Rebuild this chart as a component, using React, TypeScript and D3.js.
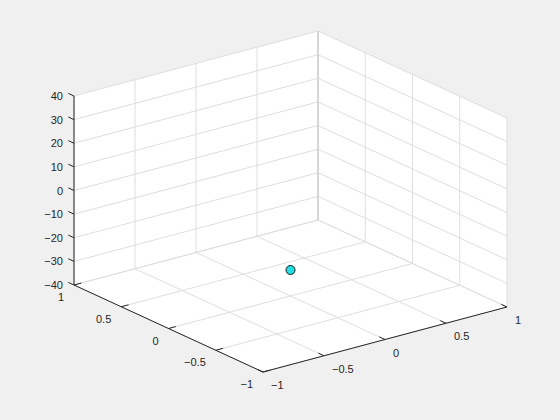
import React from 'react';
import * as d3 from 'd3';

// ticks for each axis
const xTicks = [-1, -0.5, 0, 0.5, 1];
const yTicks = [-1, -0.5, 0, 0.5, 1];
const zTicks = [-40, -30, -20, -10, 0, 10, 20, 30, 40];
const xTickLabels = ['-1', '-0.5', '0', '0.5', '1'];
const yTickLabels = ['-1', '-0.5', '0', '0.5', '1'];
const zTickLabels = ['-40', '-30', '-20', '-10', '0', '10', '20', '30', '40'];

// the single scattered point
const pointsX = [0];
const pointsY = [0];
const pointsZ = [-29];

const W = 560;
const H = 420;

// screen geometry of the box (orthographic, matlab default view)
const front = [263, 372];
const xEdge = [244, -65];   // x from -1 to 1
const yEdge = [-189, -87];  // y from -1 to 1
const zHeight = 189;

const sx = d3.scaleLinear().domain([-1, 1]).range([0, 1]);
const sy = d3.scaleLinear().domain([-1, 1]).range([0, 1]);
const sz = d3.scaleLinear().domain([-40, 40]).range([0, zHeight]);

const proj = (x: number, y: number, z: number): [number, number] => {
  const a = sx(x), b = sy(y);
  return [
    front[0] + a * xEdge[0] + b * yEdge[0],
    front[1] + a * xEdge[1] + b * yEdge[1] - sz(z),
  ];
};

const fmt = (s: string) => s.replace('-', '\u2212');

const App = () => {
  const line = d3.line();
  const gridColor = '#dedede';
  const font = '"Liberation Sans", Arial, sans-serif';

  // white faces: floor, back wall (y=1), side wall (x=1)
  const outline = [
    proj(-1, 1, 40), proj(1, 1, 40), proj(1, -1, 40),
    proj(1, -1, -40), proj(-1, -1, -40), proj(-1, 1, -40),
  ];

  const grid: [number, number][][] = [];
  // floor
  xTicks.forEach(x => grid.push([proj(x, -1, -40), proj(x, 1, -40)]));
  yTicks.forEach(y => grid.push([proj(-1, y, -40), proj(1, y, -40)]));
  // wall y = 1
  xTicks.forEach(x => grid.push([proj(x, 1, -40), proj(x, 1, 40)]));
  zTicks.forEach(z => grid.push([proj(-1, 1, z), proj(1, 1, z)]));
  // wall x = 1
  yTicks.forEach(y => grid.push([proj(1, y, -40), proj(1, y, 40)]));
  zTicks.forEach(z => grid.push([proj(1, -1, z), proj(1, 1, z)]));

  const tickLen = 0.06;

  return (
    <svg width={W} height={H} style={{ position: 'absolute', left: 0, top: 0, background: '#f0f0f0' }}>
      <rect x={0} y={0} width={W} height={H} fill="#f0f0f0" />
      <path d={line(outline) + 'Z'} fill="#ffffff" />
      {grid.map((g, i) => (
        <path key={i} d={line(g) || ''} stroke={gridColor} strokeWidth={1} fill="none" />
      ))}
      {/* back corner where both walls meet */}
      <path d={line([proj(1, 1, -40), proj(1, 1, 40)]) || ''} stroke="#c4c4c4" strokeWidth={1} />

      {/* axes */}
      <path d={line([proj(-1, 1, -40), proj(-1, 1, 40)]) || ''} stroke="#262626" strokeWidth={1} />
      <path d={line([proj(-1, 1, -40), proj(-1, -1, -40)]) || ''} stroke="#262626" strokeWidth={1} />
      <path d={line([proj(-1, -1, -40), proj(1, -1, -40)]) || ''} stroke="#262626" strokeWidth={1} />

      {/* z ticks */}
      {zTicks.map((z, i) => {
        const p = proj(-1, 1, z);
        const q = proj(-1, 1 + tickLen, z);
        return (
          <g key={'z' + i}>
            <path d={line([p, q]) || ''} stroke="#262626" />
            <text x={p[0] - 11} y={p[1] + 4} textAnchor="end" fontSize={11} fontFamily={font} fill="#262626">
              {fmt(zTickLabels[i])}
            </text>
          </g>
        );
      })}
      {/* y ticks */}
      {yTicks.map((y, i) => {
        const p = proj(-1, y, -40);
        const q = proj(-1 + tickLen, y, -40);
        return (
          <g key={'y' + i}>
            <path d={line([p, q]) || ''} stroke="#262626" />
            <text x={p[0] - 10} y={p[1] + 16} textAnchor="end" fontSize={11} fontFamily={font} fill="#262626">
              {fmt(yTickLabels[i])}
            </text>
          </g>
        );
      })}
      {/* x ticks */}
      {xTicks.map((x, i) => {
        const p = proj(x, -1, -40);
        const q = proj(x, -1 + tickLen, -40);
        return (
          <g key={'x' + i}>
            <path d={line([p, q]) || ''} stroke="#262626" />
            <text x={p[0] + 8} y={p[1] + 17} textAnchor="start" fontSize={11} fontFamily={font} fill="#262626">
              {fmt(xTickLabels[i])}
            </text>
          </g>
        );
      })}

      {pointsX.map((x, i) => {
        const p = proj(x, pointsY[i], pointsZ[i]);
        return <circle key={'p' + i} cx={p[0]} cy={p[1]} r={4.5} fill="#22dde3" stroke="#1a1a1a" strokeWidth={1} />;
      })}
    </svg>
  );
};

export default App;
